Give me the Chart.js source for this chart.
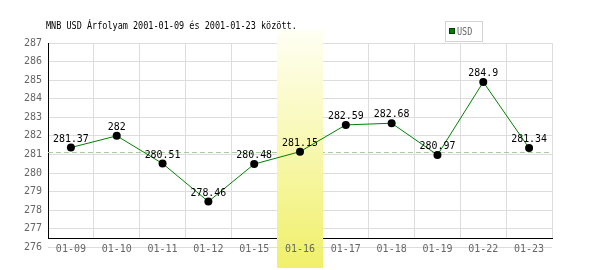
<!DOCTYPE html>
<html>
<head>
<meta charset="utf-8">
<script src="https://cdn.jsdelivr.net/npm/chart.js@4.4.1/dist/chart.umd.min.js"></script>
<style>
  html, body { margin: 0; padding: 0; background: #fff; }
  #wrap { width: 600px; height: 270px; }
</style>
</head>
<body>
<div id="wrap"><canvas id="chart" width="600" height="270"></canvas></div>
<script>
    "use strict";

    // Data
    var dates = ["01-09", "01-10", "01-11", "01-12", "01-15", "01-16", "01-17", "01-18", "01-19", "01-22", "01-23"];
    var usdRates = [281.37, 282, 280.51, 278.46, 280.48, 281.15, 282.59, 282.68, 280.97, 284.9, 281.34];
    var yTicks = [276, 277, 278, 279, 280, 281, 282, 283, 284, 285, 286, 287];
    var refRate = [281.15];
    var highlightDay = ["01-16"];
    var titleText = "MNB USD Árfolyam 2001-01-09 és 2001-01-23 között.";
    var seriesName = "USD";

    var mono = "'DejaVu Sans Mono', 'Liberation Mono', monospace";

    function bandRect(chart) {
        var a = chart.chartArea;
        var w = (a.right - a.left) / dates.length;
        var cx = chart.scales.x.getPixelForValue(dates.indexOf(highlightDay[0]));
        return { x: Math.round(cx - w / 2), w: Math.round(w) };
    }

    function bandFill(ctx) {
        var g = ctx.createLinearGradient(0, 30, 0, 268);
        g.addColorStop(0, "#fffff4");
        g.addColorStop(1, "#f0f06a");
        return g;
    }

    // Highlight band, reference line, bottom line
    var backdrop = {
        id: "backdrop",
        beforeDraw: function (chart) {
            var ctx = chart.ctx, y = chart.scales.y, a = chart.chartArea;
            var b = bandRect(chart);
            ctx.save();
            // line across the bottom tick row
            var yb = Math.round(y.getPixelForValue(yTicks[0])) + 0.5;
            ctx.strokeStyle = "#d0d0d0";
            ctx.lineWidth = 1;
            ctx.beginPath();
            ctx.moveTo(a.left, yb);
            ctx.lineTo(a.right, yb);
            ctx.stroke();
            // lower part of the band, under the tick labels
            ctx.fillStyle = bandFill(ctx);
            ctx.fillRect(b.x, 242, b.w, 26);
            ctx.restore();
        },
        beforeDatasetsDraw: function (chart) {
            var ctx = chart.ctx, y = chart.scales.y, a = chart.chartArea;
            var b = bandRect(chart);
            ctx.save();
            // dashed reference line
            var yr = Math.round(y.getPixelForValue(refRate[0])) + 0.5;
            ctx.strokeStyle = "#aacca0";
            ctx.lineWidth = 1;
            ctx.setLineDash([5, 3]);
            ctx.beginPath();
            ctx.moveTo(a.left, yr);
            ctx.lineTo(a.right, yr);
            ctx.stroke();
            // upper part of the band, over grid and axis
            ctx.fillStyle = bandFill(ctx);
            ctx.fillRect(b.x, 30, b.w, 212);
            ctx.restore();
        }
    };

    // Value labels, title and legend
    var labels = {
        id: "labels",
        afterDatasetsDraw: function (chart) {
            var ctx = chart.ctx;
            var meta = chart.getDatasetMeta(0);
            ctx.save();
            ctx.fillStyle = "#000";
            ctx.textBaseline = "alphabetic";
            ctx.textAlign = "center";
            ctx.font = "11px " + mono;
            meta.data.forEach(function (pt, i) {
                ctx.save();
                ctx.translate(pt.x, pt.y - 6);
                ctx.scale(0.9, 1);
                ctx.fillText(String(usdRates[i]), 0, 0);
                ctx.restore();
            });

            ctx.textAlign = "left";
            ctx.font = "10px " + mono;
            ctx.save();
            ctx.translate(46, 29);
            ctx.scale(0.85, 1);
            ctx.fillText(titleText, 0, 0);
            ctx.restore();

            // legend box
            ctx.fillStyle = "#fff";
            ctx.fillRect(445, 21, 37, 20);
            ctx.strokeStyle = "#d4d4d4";
            ctx.strokeRect(445.5, 21.5, 37, 20);
            ctx.fillStyle = "#008000";
            ctx.fillRect(449, 28, 6, 6);
            ctx.strokeStyle = "#004000";
            ctx.strokeRect(449.5, 28.5, 5, 5);
            ctx.fillStyle = "#666";
            ctx.font = "10px " + mono;
            ctx.save();
            ctx.translate(457, 35);
            ctx.scale(0.85, 1);
            ctx.fillText(seriesName, 0, 0);
            ctx.restore();
            ctx.restore();
        }
    };

    var ctx1 = document.getElementById("chart").getContext("2d");
    var myChart1 = new Chart(ctx1, {
        type: "line",
        data: {
            labels: dates,
            datasets: [{
                label: seriesName,
                data: usdRates,
                borderColor: "#008000",
                borderWidth: 1,
                pointRadius: 4,
                pointBackgroundColor: "#000",
                pointBorderWidth: 0,
                tension: 0
            }]
        },
        options: {
            responsive: false,
            animation: false,
            layout: { padding: { top: 43, right: 48, left: 0, bottom: 0 } },
            plugins: {
                legend: { display: false },
                title: { display: false },
                tooltip: { enabled: false }
            },
            scales: {
                x: {
                    offset: true,
                    grid: { color: "#dddddd", offset: true, drawTicks: false },
                    border: { color: "#000", width: 1 },
                    ticks: {
                        color: "#666",
                        font: { family: mono, size: 10 },
                        padding: 5,
                        maxRotation: 0,
                        autoSkip: false
                    },
                    afterFit: function (scale) { scale.height = 32; }
                },
                y: {
                    min: 276.5,
                    max: 287,
                    grid: { color: "#dddddd", drawTicks: false },
                    border: { color: "#000", width: 1 },
                    ticks: {
                        color: "#666",
                        font: { family: mono, size: 10 },
                        padding: 6,
                        autoSkip: false
                    },
                    afterBuildTicks: function (scale) {
                        scale.ticks = yTicks.map(function (v) { return { value: v }; });
                    },
                    afterFit: function (scale) { scale.width = 48; }
                }
            }
        },
        plugins: [backdrop, labels]
    });
</script>
</body>
</html>
